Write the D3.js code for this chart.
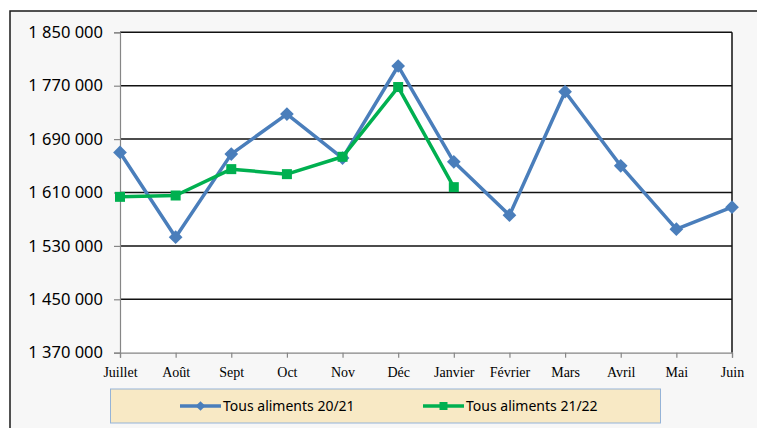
<!DOCTYPE html>
<html>
<head>
<meta charset="utf-8">
<script src="https://cdn.jsdelivr.net/npm/d3@7"></script>
<style>
    body { margin: 0; background: #fff; }
    svg { display: block; }
</style>
</head>
<body>
<svg id="chart" width="757" height="428"></svg>
<script>
const months = ['Juillet', 'Août', 'Sept', 'Oct', 'Nov', 'Déc', 'Janvier', 'Février', 'Mars', 'Avril', 'Mai', 'Juin'];
const tous2021 = [1670000, 1543000, 1667500, 1727500, 1661500, 1799500, 1656000, 1576000, 1761000, 1650000, 1555000, 1588000];
const tous2122 = [1603500, 1605500, 1645000, 1637500, 1663500, 1768000, 1618000];
const yTicks = [1370000, 1450000, 1530000, 1610000, 1690000, 1770000, 1850000];
const seriesNames = ['Tous aliments 20/21', 'Tous aliments 21/22'];

const blue = '#4a7ebb';
const green = '#00b050';

const svg = d3.select('#chart');
const plotLeft = 120, plotRight = 732, plotTop = 32.3, plotBottom = 352.7;

// chart area
svg.append('rect')
    .attr('x', 10).attr('y', 11)
    .attr('width', 800).attr('height', 500)
    .attr('fill', '#f7f7f7')
    .attr('stroke', '#1a1a1a')
    .attr('stroke-width', 1.5);

svg.append('rect')
    .attr('x', plotLeft).attr('y', plotTop)
    .attr('width', plotRight - plotLeft).attr('height', plotBottom - plotTop)
    .attr('fill', '#fff');

const x = d3.scalePoint().domain(months).range([plotLeft, plotRight]);
const y = d3.scaleLinear().domain([1370000, 1850000]).range([plotBottom, plotTop]);

const fmt = v => d3.format(',')(v).replace(/,/g, ' ');

// gridlines
svg.append('g').selectAll('line').data(yTicks.slice(1))
    .enter().append('line')
    .attr('x1', plotLeft).attr('x2', plotRight)
    .attr('y1', d => y(d)).attr('y2', d => y(d))
    .attr('stroke', '#111').attr('stroke-width', 1.5);

// right border of plot
svg.append('line')
    .attr('x1', plotRight).attr('x2', plotRight)
    .attr('y1', plotTop).attr('y2', plotBottom)
    .attr('stroke', '#111').attr('stroke-width', 1.5);

// y axis
const yAxis = svg.append('g')
    .attr('transform', `translate(${plotLeft},0)`)
    .call(d3.axisLeft(y).tickValues(yTicks).tickFormat(fmt).tickSizeOuter(0).tickSize(6).tickPadding(11));
yAxis.select('.domain').attr('stroke', '#868686').attr('stroke-width', 1.2);
yAxis.selectAll('.tick line').attr('stroke', '#868686').attr('stroke-width', 1.2);
yAxis.selectAll('.tick text')
    .attr('fill', '#000')
    .style('font-family', '"Noto Sans", "Open Sans", sans-serif')
    .style('font-size', '16.5px');

// x axis
const xAxis = svg.append('g')
    .attr('transform', `translate(0,${plotBottom})`)
    .call(d3.axisBottom(x).tickSizeOuter(0).tickSize(5).tickPadding(9));
xAxis.select('.domain').attr('stroke', '#868686').attr('stroke-width', 1.2);
xAxis.selectAll('.tick line').attr('stroke', '#868686').attr('stroke-width', 1.2);
xAxis.selectAll('.tick text')
    .attr('fill', '#000')
    .style('font-family', '"Liberation Serif", "Times New Roman", serif')
    .style('font-size', '14px');

const line = d3.line()
    .x((d, i) => x(months[i]))
    .y(d => y(d));

// series 20/21
svg.append('path')
    .datum(tous2021)
    .attr('d', line)
    .attr('fill', 'none')
    .attr('stroke', blue)
    .attr('stroke-width', 3.5)
    .attr('stroke-linejoin', 'round');

svg.append('g').selectAll('path').data(tous2021)
    .enter().append('path')
    .attr('d', d3.symbol(d3.symbolDiamond2, 120))
    .attr('transform', (d, i) => `translate(${x(months[i])},${y(d)})`)
    .attr('fill', blue);

// series 21/22
svg.append('path')
    .datum(tous2122)
    .attr('d', line)
    .attr('fill', 'none')
    .attr('stroke', green)
    .attr('stroke-width', 3.5)
    .attr('stroke-linejoin', 'round');

svg.append('g').selectAll('rect').data(tous2122)
    .enter().append('rect')
    .attr('x', (d, i) => x(months[i]) - 5)
    .attr('y', d => y(d) - 5)
    .attr('width', 10).attr('height', 10)
    .attr('fill', green);

// legend
const legend = svg.append('g');
legend.append('rect')
    .attr('x', 110.5).attr('y', 389)
    .attr('width', 550).attr('height', 34)
    .attr('fill', '#f8e9c5')
    .attr('stroke', '#95b3d7')
    .attr('stroke-width', 1);

const legendItems = [
    { name: seriesNames[0], color: blue, x0: 180, marker: 'diamond' },
    { name: seriesNames[1], color: green, x0: 423, marker: 'square' },
];

const item = legend.selectAll('g.item').data(legendItems)
    .enter().append('g')
    .attr('class', 'item')
    .attr('transform', d => `translate(${d.x0},406)`);

item.append('line')
    .attr('x1', 0).attr('x2', 41)
    .attr('stroke', d => d.color)
    .attr('stroke-width', 3.5);

item.append('path')
    .attr('d', d => d.marker === 'diamond'
        ? d3.symbol(d3.symbolDiamond2, 60)()
        : 'M-4,-4H4V4H-4Z')
    .attr('transform', 'translate(20.5,0)')
    .attr('fill', d => d.color);

item.append('text')
    .attr('x', 43)
    .attr('dy', '0.35em')
    .style('font-family', '"Noto Sans", "Open Sans", sans-serif')
    .style('font-size', '14px')
    .attr('fill', '#000')
    .text(d => d.name);
</script>
</body>
</html>
